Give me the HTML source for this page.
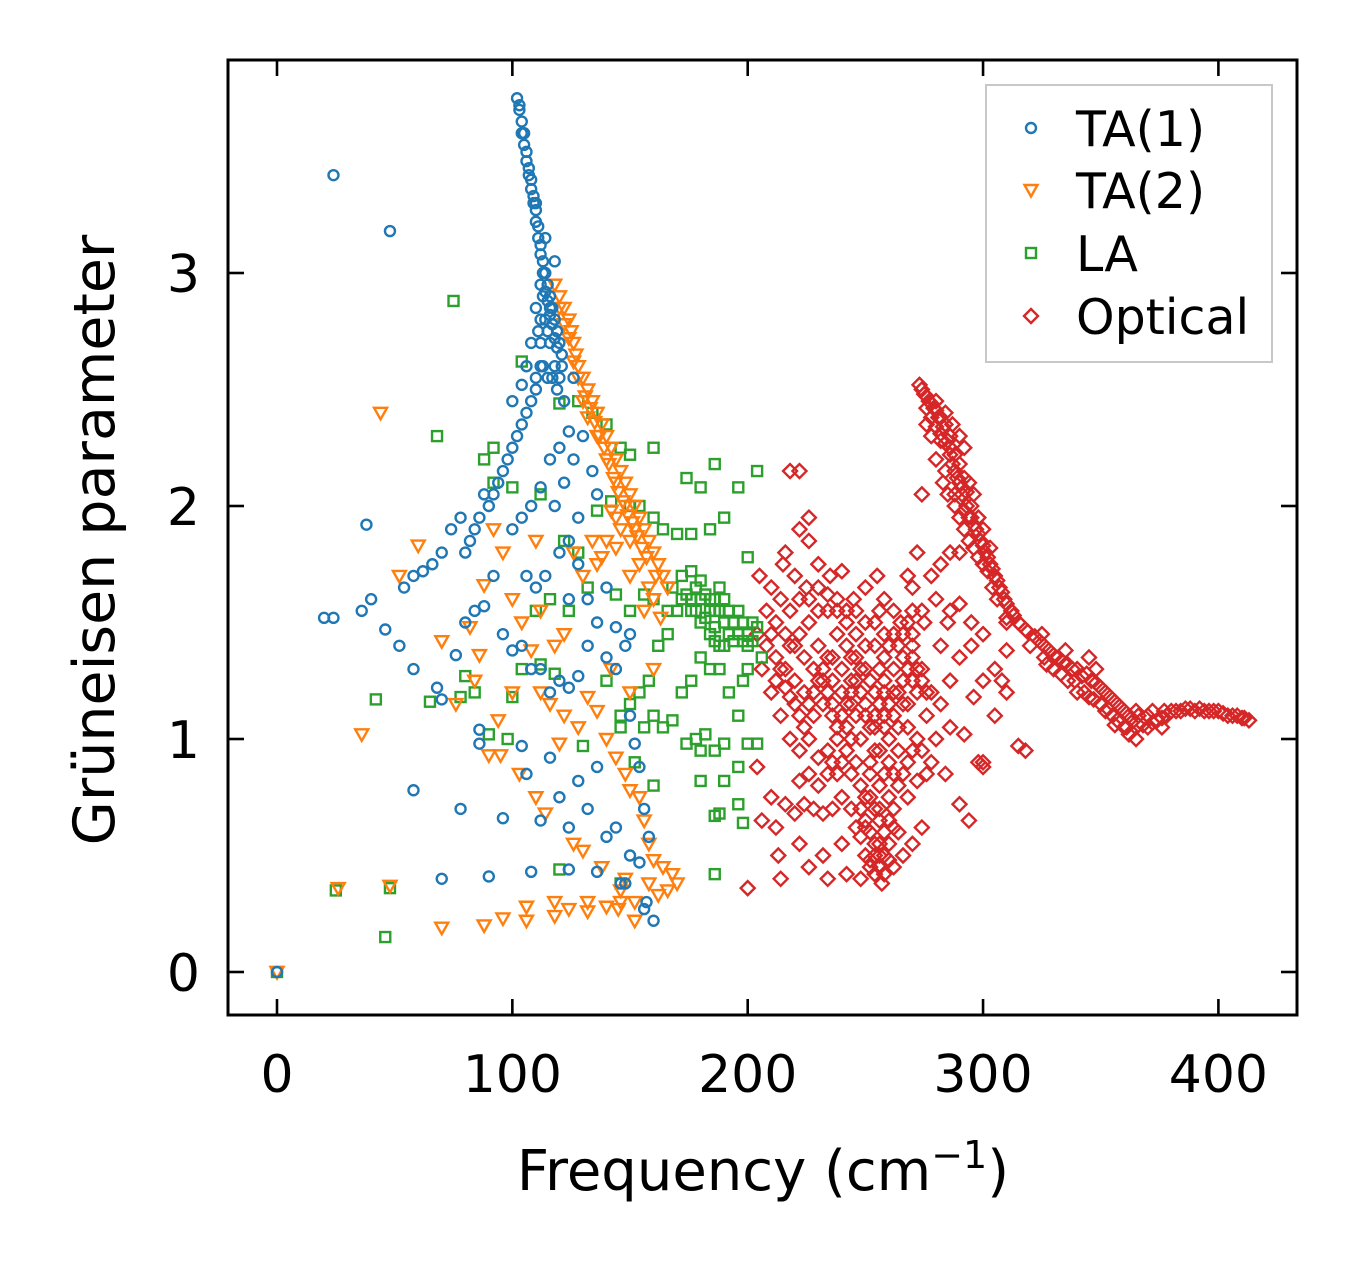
<!DOCTYPE html>
<html><head><meta charset="utf-8"><style>
html,body{margin:0;padding:0;background:#fff;}
svg{display:block;font-family:"DejaVu Sans","Liberation Sans",sans-serif;}
</style></head><body>
<svg id="chart" width="1357" height="1264" viewBox="0 0 1357 1264" xmlns="http://www.w3.org/2000/svg">
<rect x="0" y="0" width="1357" height="1264" fill="#fff"/>
<g id="marks"></g>
<g id="axes"></g>
<text x="763" y="1190" font-size="56" text-anchor="middle">Frequency (cm<tspan dy="-22" font-size="38">−1</tspan><tspan dy="22">)</tspan></text>
<text transform="translate(114,540) rotate(-90)" font-size="57" text-anchor="middle">Grüneisen parameter</text>
<g>
<rect x="986" y="85" width="286" height="277" fill="#fff" stroke="#c8c8c8" stroke-width="2"/>
<g id="legend-items"></g>
</g>
</svg>
<script>
const ta1 = [[102,3.75],[103,3.7],[104,3.65],[105,3.6],[106,3.52],[107,3.45],[108,3.4],[109,3.33],[110,3.27],[111,3.2],[112,3.12],[113,3.05],[114,3.0],[115,2.95],[116,2.9],[117,2.85],[118,2.8],[119,2.75],[120,2.7],[121,2.65],[112,2.95],[113,2.9],[110,2.85],[111,2.75],[112,2.7],[113,2.6],[115,2.55],[118,2.6],[120,2.55],[110,2.5],[108,2.45],[106,2.4],[104,2.35],[102,2.3],[100,2.25],[98,2.2],[96,2.15],[94,2.1],[92,2.05],[90,2.0],[88,2.05],[86,1.95],[84,1.9],[82,1.85],[80,1.8],[78,1.95],[74,1.9],[70,1.8],[66,1.75],[62,1.72],[58,1.7],[54,1.65],[40,1.6],[36,1.55],[24,1.52],[20,1.52],[38,1.92],[24,3.42],[48,3.18],[0,0],[46,1.47],[52,1.4],[58,1.3],[68,1.22],[70,1.17],[76,1.36],[80,1.5],[84,1.55],[88,1.57],[92,1.7],[96,1.45],[100,1.38],[104,1.4],[108,1.3],[112,1.3],[116,1.2],[120,1.25],[124,1.22],[128,1.27],[132,1.4],[136,1.5],[140,1.35],[144,1.3],[148,1.4],[150,1.1],[152,0.98],[154,0.88],[156,0.7],[158,0.58],[160,0.22],[157,0.3],[154,0.47],[150,0.5],[146,0.38],[144,0.62],[140,0.58],[136,0.88],[132,0.7],[128,0.82],[124,0.62],[120,0.75],[116,0.92],[112,0.65],[106,0.85],[104,0.97],[96,0.66],[86,0.98],[86,1.04],[78,0.7],[58,0.78],[70,0.4],[90,0.41],[108,0.43],[124,0.44],[136,0.43],[148,0.38],[156,0.27],[100,1.9],[104,1.95],[108,2.0],[112,2.08],[116,2.2],[118,2.0],[122,2.1],[126,2.2],[130,2.3],[134,2.15],[136,2.05],[128,1.95],[124,1.85],[120,1.8],[114,1.7],[110,1.65],[106,1.7],[124,1.6],[128,1.75],[132,1.6],[140,1.65],[144,1.48],[150,1.45],[100,2.45],[104,2.52],[106,2.6],[108,2.7],[112,2.8],[116,2.85],[118,3.05],[114,3.15],[110,3.3],[122,2.45],[126,2.55],[120,2.25],[124,2.32],
[103,3.72],[104,3.6],[105,3.55],[106,3.48],[107,3.42],[108,3.36],[109,3.3],[110,3.22],[111,3.15],[112,3.08],[113,3.0],[114,2.92],[115,2.88],[116,2.82],[117,2.78],[118,2.72],[119,2.68],[114,2.8],[115,2.75],[116,2.7],[112,2.6],[110,2.55],[117,2.55],[119,2.5],[121,2.6]];
const ta2 = [[118,2.95],[120,2.9],[122,2.85],[124,2.8],[125,2.75],[126,2.7],[127,2.65],[128,2.6],[130,2.55],[132,2.5],[134,2.45],[136,2.4],[138,2.35],[140,2.3],[142,2.25],[144,2.2],[146,2.15],[148,2.1],[150,2.05],[152,2.0],[154,1.95],[156,1.9],[158,1.85],[160,1.8],[162,1.75],[164,1.7],[166,1.65],[130,2.45],[132,2.38],[136,2.3],[140,2.2],[144,2.1],[148,2.0],[152,1.9],[144,1.95],[140,1.85],[136,1.75],[138,1.78],[144,1.82],[150,1.7],[154,1.75],[158,1.65],[160,1.6],[44,2.4],[60,1.83],[52,1.7],[36,1.02],[70,1.42],[76,1.15],[84,1.25],[88,1.66],[82,1.48],[86,1.36],[92,1.9],[96,1.8],[100,1.6],[104,1.5],[108,1.38],[112,1.2],[116,1.15],[118,1.4],[122,1.1],[128,1.05],[132,1.18],[136,1.12],[140,1.0],[144,0.92],[148,0.85],[150,0.78],[154,0.75],[156,0.65],[158,0.55],[160,0.48],[164,0.45],[168,0.42],[170,0.38],[166,0.35],[162,0.33],[158,0.38],[152,0.3],[146,0.3],[140,0.28],[132,0.3],[124,0.27],[118,0.3],[106,0.28],[96,0.23],[88,0.2],[70,0.19],[48,0.37],[26,0.36],[106,0.22],[118,0.24],[132,0.26],[145,0.27],[95,0.93],[103,0.85],[114,0.68],[126,0.55],[130,0.52],[138,0.45],[148,0.4],[110,0.75],[120,0.98],[142,1.3],[150,1.2],[160,1.3],[163,1.52],[156,1.55],[130,1.7],[126,1.8],[134,1.85],[110,1.85],[112,1.55],[122,1.45],[100,1.2],[94,1.08],[90,0.93],[146,0.35],[152,0.22],[0,0],
[120,2.85],[122,2.78],[124,2.72],[126,2.62],[128,2.55],[131,2.47],[133,2.42],[135,2.36],[137,2.3],[139,2.25],[141,2.18],[143,2.12],[145,2.06],[147,2.02],[149,1.96],[151,1.93],[153,1.87],[155,1.82],[157,1.78],[161,1.7],[146,1.9],[142,1.98],[150,1.85]];
const la = [[75,2.88],[104,2.62],[68,2.3],[42,1.17],[65,1.16],[84,1.2],[88,2.2],[92,2.25],[92,2.1],[100,2.08],[112,2.05],[120,2.44],[128,2.45],[134,2.4],[140,2.35],[146,2.25],[150,2.22],[160,2.25],[174,2.12],[180,2.08],[186,2.18],[196,2.08],[204,2.15],[200,1.78],[190,1.95],[184,1.9],[176,1.88],[170,1.88],[164,1.9],[160,1.95],[154,2.0],[150,2.0],[142,2.02],[136,1.98],[128,1.8],[122,1.85],[110,1.55],[116,1.6],[124,1.55],[132,1.65],[144,1.62],[150,1.55],[156,1.62],[160,1.6],[166,1.55],[168,1.65],[172,1.7],[176,1.72],[180,1.68],[184,1.6],[186,1.55],[188,1.65],[190,1.5],[192,1.45],[194,1.5],[196,1.55],[198,1.42],[200,1.45],[202,1.5],[204,1.48],[178,1.55],[180,1.6],[182,1.52],[186,1.48],[188,1.4],[174,1.62],[170,1.55],[166,1.45],[162,1.4],[158,1.25],[154,1.2],[150,1.15],[146,1.1],[160,1.1],[164,1.05],[168,1.08],[172,1.2],[176,1.25],[180,1.35],[184,1.3],[188,1.3],[192,1.2],[196,1.1],[200,0.98],[204,0.98],[190,0.98],[186,0.95],[180,0.95],[178,1.0],[174,0.98],[182,1.02],[190,0.82],[196,0.72],[198,0.64],[180,0.82],[186,0.67],[188,0.68],[186,0.42],[146,0.38],[120,0.44],[100,1.18],[104,1.3],[112,1.32],[118,1.28],[98,1.0],[90,1.02],[80,1.27],[78,1.18],[46,0.15],[48,0.36],[25,0.35],[130,0.97],[140,1.25],[146,1.05],[156,1.05],[152,0.9],[160,0.8],[196,0.88],[200,1.3],[206,1.35],[198,1.25],[0,0],
[176,1.6],[178,1.65],[182,1.62],[184,1.55],[186,1.6],[188,1.55],[190,1.6],[192,1.55],[194,1.42],[196,1.45],[198,1.5],[184,1.45],[180,1.5],[176,1.55],[172,1.6],[190,1.4],[186,1.42],[200,1.4],[202,1.42]];
const optical = [[273,2.52],[275,2.48],[277,2.45],[279,2.42],[281,2.38],[283,2.34],[285,2.28],[286,2.22],[288,2.15],[290,2.1],[291,2.05],[293,2.0],[295,1.95],[297,1.9],[299,1.85],[301,1.8],[303,1.75],[305,1.7],[307,1.65],[309,1.6],[312,1.55],[315,1.5],[318,1.47],[322,1.44],[326,1.4],[330,1.36],[334,1.33],[338,1.3],[342,1.27],[346,1.25],[350,1.22],[354,1.18],[358,1.14],[362,1.1],[366,1.06],[370,1.05],[374,1.08],[378,1.1],[382,1.12],[386,1.13],[390,1.12],[394,1.12],[398,1.12],[402,1.11],[406,1.1],[410,1.09],[413,1.08],[280,2.45],[284,2.4],[287,2.35],[290,2.3],[292,2.25],[286,2.3],[282,2.28],[278,2.3],[276,2.35],[280,2.2],[284,2.15],[288,2.05],[292,1.98],[296,2.05],[290,1.95],[294,1.85],[298,1.78],[302,1.72],[306,1.6],[310,1.52],[340,1.2],[345,1.18],[350,1.15],[355,1.1],[360,1.05],[365,1.0],[362,1.02],[356,1.06],[352,1.12],[348,1.3],[336,1.25],[330,1.3],[320,1.4],[326,1.35],[370,1.1],[376,1.05],[380,1.12],[365,1.12],[345,1.35],[335,1.38],[325,1.45],[205,1.7],[210,1.65],[215,1.75],[220,1.7],[225,1.65],[230,1.75],[235,1.7],[240,1.72],[245,1.6],[250,1.65],[255,1.7],[258,1.6],[262,1.55],[265,1.5],[270,1.55],[275,1.5],[280,1.6],[285,1.5],[290,1.58],[295,1.5],[300,1.45],[310,1.38],[305,1.3],[300,1.25],[296,1.18],[310,1.2],[318,0.95],[315,0.97],[300,0.88],[298,0.9],[292,1.02],[286,1.05],[280,1.0],[276,0.85],[272,0.82],[268,0.75],[264,0.6],[260,0.55],[258,0.5],[256,0.45],[254,0.42],[252,0.48],[250,0.5],[248,0.58],[246,0.62],[244,0.7],[240,0.75],[236,0.7],[232,0.68],[228,0.7],[224,0.72],[220,0.68],[216,0.72],[210,0.75],[206,0.65],[200,0.36],[213,0.5],[214,0.4],[226,0.45],[234,0.4],[242,0.42],[248,0.4],[262,0.45],[266,0.5],[270,0.55],[274,0.62],[230,0.92],[234,0.95],[238,1.0],[242,1.05],[246,1.1],[250,1.15],[254,1.2],[258,1.25],[262,1.3],[266,1.35],[270,1.4],[274,1.3],[278,1.2],[282,1.15],[286,1.25],[290,1.35],[240,0.9],[244,0.85],[248,0.8],[252,0.75],[256,0.7],[260,0.65],[264,0.8],[268,0.9],[272,1.0],[276,1.1],[260,1.0],[256,0.95],[252,0.9],[248,1.0],[244,1.15],[240,1.2],[236,1.25],[232,1.15],[228,1.1],[224,1.2],[220,1.25],[216,1.3],[212,1.35],[208,1.4],[204,1.45],[206,1.3],[210,1.2],[214,1.1],[218,1.0],[222,0.95],[226,1.0],[218,1.4],[222,1.45],[226,1.5],[230,1.4],[234,1.35],[238,1.45],[242,1.4],[246,1.35],[250,1.3],[254,1.4],[258,1.45],[262,1.2],[266,1.15],[270,1.25],[250,1.5],[246,1.55],[242,1.55],[238,1.6],[234,1.55],[230,1.55],[226,1.85],[222,1.9],[218,2.15],[222,2.15],[226,1.95],[216,1.8],[204,0.88],[212,0.62],[222,0.55],[232,0.5],[240,0.55],[250,0.62],[256,0.55],[262,0.62],[284,0.85],[290,0.72],[294,0.65],[300,0.9],[305,1.1],[308,1.25],[310,1.5],[295,1.4],[282,1.4],[278,1.7],[282,1.75],[286,1.8],[290,1.8],[274,2.05],[272,1.8],[268,1.7],[270,1.65],[274,1.55],[286,1.55],[258,1.1],[254,1.05],[264,1.05],[268,1.15],[272,1.2],[244,1.25],[236,1.15],
[274,2.5],[276,2.47],[278,2.44],[280,2.41],[282,2.38],[284,2.35],[276,2.42],[278,2.38],[280,2.34],[282,2.31],[284,2.27],[286,2.25],[288,2.22],[290,2.18],[292,2.12],[287,2.18],[289,2.12],[291,2.08],[293,2.06],[295,2.0],[294,1.95],[296,1.92],[298,1.88],[300,1.83],[302,1.78],[304,1.73],[306,1.68],[308,1.63],[310,1.58],[313,1.53],[316,1.49],[319,1.46],[324,1.42],[328,1.38],[332,1.35],[336,1.32],[340,1.3],[344,1.28],[348,1.24],[352,1.2],[356,1.16],[360,1.12],[364,1.08],[368,1.06],[372,1.07],[376,1.09],[384,1.12],[388,1.13],[392,1.13],[396,1.12],[400,1.12],[404,1.1],[408,1.1],[411,1.09],[343,1.2],[347,1.17],[353,1.13],[357,1.08],[361,1.05],[366,1.1],[372,1.12],[377,1.12],[283,2.1],[285,2.05],[288,2.0],[292,1.9],[296,1.82],[300,1.75],[304,1.65],[294,2.1],[298,1.95],[300,1.9],[303,1.82],[339,1.25],[333,1.28],[327,1.32],
[212,1.25],[214,1.3],[216,1.22],[218,1.18],[220,1.15],[222,1.1],[224,1.05],[226,1.15],[228,1.2],[230,1.25],[232,1.3],[234,1.2],[236,1.1],[238,1.05],[240,1.1],[242,1.15],[244,1.2],[246,1.25],[248,1.2],[250,1.1],[252,1.05],[254,1.1],[256,1.15],[258,1.2],[260,1.15],[262,1.1],[264,1.2],[266,1.25],[268,1.3],[270,1.35],[272,1.3],[274,1.25],[276,1.2],[252,1.25],[248,1.3],[244,1.35],[240,1.3],[236,1.35],[232,1.25],[228,1.3],[224,1.35],[220,1.4],[216,1.45],[212,1.5],[208,1.55],[210,1.45],[214,1.6],[218,1.55],[222,1.6],[226,1.6],[230,1.65],[234,1.62],[238,1.55],[242,1.5],[246,1.45],[250,1.4],[254,1.5],[256,1.55],[258,1.35],[260,1.4],[262,1.45],[264,1.4],[266,1.45],[268,1.5],[270,1.45],[254,0.95],[252,0.85],[250,0.75],[248,0.7],[250,0.65],[252,0.6],[254,0.55],[256,0.5],[258,0.6],[256,0.65],[254,0.7],[256,0.8],[258,0.85],[260,0.9],[262,0.85],[260,0.75],[262,0.7],[246,0.9],[244,1.0],[242,0.95],[238,0.85],[236,0.9],[234,0.85],[230,0.8],[226,0.85],[222,0.82],[256,1.3],[258,1.05],[264,0.95],[266,0.85],[268,1.05],[270,0.95],[274,0.95],[278,0.9],[252,0.45],[254,0.5],[258,0.42],[260,0.48],[257,0.38]];
const xTicks = [0,100,200,300,400];
const yTicks = [0,1,2,3];
const legendLabels = ["TA(1)","TA(2)","LA","Optical"];

const NS = "http://www.w3.org/2000/svg";
const L = 228, R = 1297, T = 60, B = 1015;
function xs(v){ return 277 + v * 2.3535; }
function ys(v){ return 972 - v * 233; }
const colors = {ta1:"#1f77b4", ta2:"#ff7f0e", la:"#2ca02c", opt:"#d62728"};

function mk(kind, cx, cy, parent){
  let el;
  if (kind === "ta1") {
    el = document.createElementNS(NS,"circle");
    el.setAttribute("cx",cx); el.setAttribute("cy",cy); el.setAttribute("r",5);
  } else if (kind === "ta2") {
    el = document.createElementNS(NS,"polygon");
    el.setAttribute("points",`${cx-6.5},${cy-5} ${cx+6.5},${cy-5} ${cx},${cy+6.5}`);
  } else if (kind === "la") {
    el = document.createElementNS(NS,"rect");
    el.setAttribute("x",cx-5); el.setAttribute("y",cy-5); el.setAttribute("width",10); el.setAttribute("height",10);
  } else {
    el = document.createElementNS(NS,"polygon");
    el.setAttribute("points",`${cx},${cy-7} ${cx+7},${cy} ${cx},${cy+7} ${cx-7},${cy}`);
  }
  el.setAttribute("fill","none");
  el.setAttribute("stroke",colors[kind]);
  el.setAttribute("stroke-width",2.4);
  parent.appendChild(el);
  return el;
}

const marks = document.getElementById("marks");
const series = [["opt",optical,"optical-point"],["la",la,"la-point"],["ta2",ta2,"ta2-point"],["ta1",ta1,"ta1-point"]];
series.forEach(([k,data,name])=>{
  const g = document.createElementNS(NS,"g");
  
  
  marks.appendChild(g);
  data.forEach(d=>{
    const el = mk(k, xs(d[0]), ys(d[1]), g);
    
    
  });
});

const axes = document.getElementById("axes");
function line(x1,y1,x2,y2,w,name){
  const l = document.createElementNS(NS,"line");
  l.setAttribute("x1",x1);l.setAttribute("y1",y1);l.setAttribute("x2",x2);l.setAttribute("y2",y2);
  l.setAttribute("stroke","#000");l.setAttribute("stroke-width",w);
  
  
  axes.appendChild(l);
}
function txt(x,y,s,anchor,name){
  const t = document.createElementNS(NS,"text");
  t.setAttribute("x",x);t.setAttribute("y",y);t.setAttribute("font-size",52);t.setAttribute("text-anchor",anchor);
  t.textContent = s;
  
  
  axes.appendChild(t);
}
xTicks.forEach(v=>{
  const x = xs(v);
  line(x,B,x,B-16,2.6,"x-tick");
  line(x,T,x,T+16,2.6,"x-tick-top");
  txt(x,1092,String(v),"middle","x-tick-label");
});
yTicks.forEach(v=>{
  const y = ys(v);
  line(L,y,L+16,y,2.6,"y-tick");
  line(R,y,R-16,y,2.6,"y-tick-right");
  txt(200,y+19,String(v),"end","y-tick-label");
});
const frame = document.createElementNS(NS,"rect");
frame.setAttribute("x",L);frame.setAttribute("y",T);frame.setAttribute("width",R-L);frame.setAttribute("height",B-T);
frame.setAttribute("fill","none");frame.setAttribute("stroke","#000");frame.setAttribute("stroke-width",3);


axes.appendChild(frame);

const li = document.getElementById("legend-items");
const keys = ["ta1","ta2","la","opt"];
const ly = [128,190,253,316];
keys.forEach((k,i)=>{
  const m = mk(k,1031,ly[i],li);
  
  
  const t = document.createElementNS(NS,"text");
  t.setAttribute("x",1076);t.setAttribute("y",ly[i]+18);t.setAttribute("font-size",49);
  t.textContent = legendLabels[i];
  
  
  li.appendChild(t);
});
</script>
</body></html>
